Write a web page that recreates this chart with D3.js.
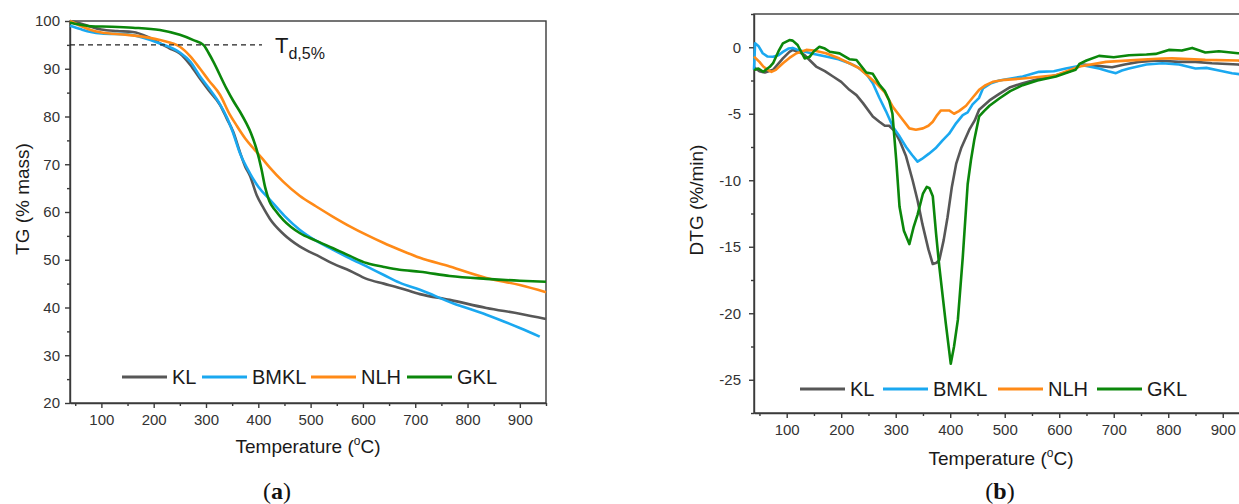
<!DOCTYPE html>
<html>
<head>
<meta charset="utf-8">
<script src="https://cdn.jsdelivr.net/npm/d3@7"></script>
<style>
  body { margin: 0; background: #fff; }
  svg text { font-family: "Liberation Sans", Arial, sans-serif; }
  .axis path, .axis line { stroke: #3a3a3a; stroke-width: 1.4; }
  .axis text { fill: #333; font-size: 15px; }
</style>
</head>
<body>
<svg id="chart" width="1239" height="504"></svg>
<script>
// series names and colours
const seriesNames = ["KL", "BMKL", "NLH", "GKL"];
const seriesColors = ["#575757", "#1aa8f0", "#ff8a17", "#0b870b"];

// TG curves (% mass) (a) : [temperature, value]
const tgKL = [[40,100],[60,99.5],[80,98.8],[100,98.2],[130,97.9],[160,97.7],[190,96.6],[212,95.3],[230,94.3],[250,93.2],[270,90.8],[288,88.0],[305,85.5],[327,82.4],[340,79.5],[352,76.8],[365,72.5],[375,69.5],[384,67.6],[397,63.5],[410,60.8],[422,58.6],[448,55.4],[479,52.8],[518,50.6],[543,49.2],[575,47.7],[607,46.0],[640,45.0],[670,44.1],[709,42.8],[766,41.6],[836,39.9],[900,38.7],[950,37.6]];
const tgBMKL = [[40,99],[60,98.3],[80,97.7],[100,97.4],[150,97.2],[212,95.3],[250,93.4],[270,91.5],[288,88.5],[305,86],[327,82.5],[340,79.8],[351,76.8],[365,72.3],[384,68.1],[400,65.3],[422,62.6],[450,59.2],[479,56.3],[510,54],[543,52.1],[575,50.3],[607,48.6],[640,46.8],[670,45.2],[709,43.7],[772,40.9],[836,38.5],[900,35.7],[938,33.9]];
const tgNLH = [[40,100],[60,99],[80,98.1],[100,97.6],[150,97.1],[212,96.0],[250,94.6],[270,92.6],[288,90.1],[305,87.6],[327,84.5],[345,80.5],[358,78.2],[375,75.4],[390,73.4],[406,71.4],[422,69.3],[448,66.3],[479,63.4],[510,61.2],[543,59],[575,57],[607,55.2],[640,53.5],[670,52.1],[709,50.4],[766,48.6],[836,46.2],[900,44.7],[950,43.2]];
const tgGKL = [[40,99.7],[55,99.3],[80,98.9],[120,98.8],[160,98.6],[212,98.1],[250,97.1],[276,96.0],[295,95.0],[305,93.3],[314,91.5],[339,85.9],[352,83.3],[365,81],[377,78.6],[386,76.5],[397,73],[406,69],[413,65.2],[421,62.3],[432,60.4],[448,58.3],[479,55.6],[510,54],[543,52.4],[575,50.8],[607,49.3],[640,48.5],[670,47.9],[709,47.5],[766,46.6],[836,46.0],[900,45.6],[950,45.4]];

// DTG curves (%/min)
const dtgKL = [[40,-1.5],[50,-1.8],[60,-1.9],[75,-1.7],[93,-0.84],[105,-0.35],[111,-0.2],[125,-0.4],[133,-0.6],[154,-1.45],[170,-1.8],[185,-2.2],[200,-2.6],[215,-3.2],[228,-3.6],[240,-4.2],[258,-5.2],[270,-5.6],[280,-5.9],[288,-5.9],[298,-6.3],[307,-7.0],[319,-8.2],[331,-10],[340,-11.5],[349,-13.3],[360,-15.2],[368,-16.3],[375,-16.2],[380,-16.0],[388,-14.5],[395,-12.8],[403,-10.5],[411,-8.75],[420,-7.6],[435,-6.2],[445,-5.5],[453,-4.7],[472,-4.0],[490,-3.5],[510,-3.0],[533,-2.7],[560,-2.4],[594,-2.1],[620,-1.8],[643,-1.3],[670,-1.4],[697,-1.5],[720,-1.3],[746,-1.1],[780,-1.0],[819,-1.1],[850,-1.1],[880,-1.2],[928,-1.3],[950,-1.35]];
const dtgBMKL = [[40,-1.7],[42,0.3],[48,0.1],[56,-0.45],[65,-0.7],[75,-0.72],[85,-0.6],[93,-0.35],[103,-0.1],[111,-0.05],[120,-0.2],[136,-0.35],[150,-0.5],[172,-0.7],[195,-0.9],[215,-1.2],[230,-1.5],[246,-2.0],[258,-2.7],[270,-3.8],[282,-4.8],[295,-6.0],[307,-6.7],[319,-7.5],[330,-8.1],[340,-8.6],[348,-8.4],[361,-8.0],[373,-7.6],[386,-7.0],[398,-6.5],[411,-5.7],[423,-5.1],[432,-4.9],[441,-4.3],[453,-3.8],[460,-3.1],[475,-2.7],[490,-2.5],[533,-2.2],[563,-1.85],[590,-1.8],[612,-1.6],[643,-1.35],[673,-1.6],[690,-1.8],[704,-1.95],[715,-1.75],[728,-1.6],[760,-1.3],[789,-1.2],[820,-1.3],[850,-1.6],[870,-1.55],[893,-1.75],[917,-1.95],[935,-2.05],[950,-2.0]];
const dtgNLH = [[40,-0.7],[50,-1.1],[57,-1.45],[65,-1.7],[72,-1.85],[80,-1.7],[93,-1.2],[105,-0.8],[118,-0.45],[136,-0.2],[150,-0.25],[172,-0.45],[197,-0.85],[215,-1.2],[234,-1.6],[246,-2.05],[264,-2.7],[280,-3.4],[295,-4.5],[310,-5.3],[325,-6.1],[337,-6.2],[350,-6.1],[360,-5.9],[368,-5.6],[376,-5.1],[383,-4.75],[398,-4.75],[407,-5.0],[416,-4.8],[429,-4.4],[441,-3.8],[453,-3.2],[465,-2.85],[478,-2.6],[500,-2.45],[533,-2.35],[594,-2.1],[637,-1.45],[686,-1.1],[746,-0.95],[789,-0.85],[807,-0.84],[868,-0.95],[928,-1.0],[950,-1.05]];
const dtgGKL = [[40,-1.72],[48,-1.6],[57,-1.84],[69,-1.47],[75,-1.2],[85,-0.3],[93,0.29],[105,0.54],[111,0.5],[120,0.17],[126,-0.3],[133,-0.84],[142,-0.72],[150,-0.3],[160,0.04],[170,-0.1],[179,-0.34],[197,-0.46],[215,-0.9],[228,-0.96],[246,-1.9],[258,-2.0],[270,-2.8],[280,-3.3],[288,-4.0],[294,-5.0],[298,-7.0],[301,-8.5],[307,-12.0],[315,-13.8],[325,-14.8],[333,-13.5],[340,-12.6],[350,-11.0],[357,-10.5],[362,-10.6],[368,-11.2],[374,-14.0],[380,-16.5],[392,-20.8],[401,-23.8],[407,-22.5],[414,-20.5],[423,-15.8],[432,-10.3],[438,-8.5],[444,-7.0],[453,-5.2],[462,-4.8],[472,-4.4],[490,-3.85],[510,-3.3],[533,-2.85],[560,-2.5],[594,-2.2],[615,-1.9],[630,-1.7],[637,-1.25],[650,-1.0],[673,-0.65],[700,-0.75],[728,-0.6],[760,-0.55],[777,-0.5],[801,-0.2],[825,-0.25],[844,-0.05],[868,-0.4],[893,-0.3],[928,-0.45],[950,-0.5]];

// tick values
const tempTicks = [100, 200, 300, 400, 500, 600, 700, 800, 900];
const tempMinor = [50, 150, 250, 350, 450, 550, 650, 750, 850, 950];
const tgTicks = [20, 30, 40, 50, 60, 70, 80, 90, 100];
const tgMinor = [25, 35, 45, 55, 65, 75, 85, 95];
const dtgTicks = [-25, -20, -15, -10, -5, 0];
const dtgMinor = [-27.5, -22.5, -17.5, -12.5, -7.5, -2.5, 2.5];
const tdLevel = 95;   // T d,5% reference

const svg = d3.select("#chart");

// plain hyphen for negative labels, like the original figure
const plainFormat = d => String(d);

// draws one panel, returns the scales
function drawPanel(opt) {
  const x = d3.scaleLinear().domain([40, 950]).range(opt.xRange);
  const y = d3.scaleLinear().domain(opt.yDomain).range(opt.yRange);
  const g = svg.append("g");

  // frame (top and right)
  g.append("rect")
    .attr("x", opt.xRange[0]).attr("y", opt.yRange[1])
    .attr("width", opt.xRange[1] - opt.xRange[0])
    .attr("height", opt.yRange[0] - opt.yRange[1])
    .attr("fill", "none").attr("stroke", "#3a3a3a").attr("stroke-width", 1.4);

  // minor ticks
  g.append("g").attr("class", "axis")
    .attr("transform", `translate(0,${opt.yRange[0]})`)
    .call(d3.axisBottom(x).tickValues(tempMinor).tickSize(3).tickFormat(""))
    .select(".domain").remove();
  g.append("g").attr("class", "axis")
    .attr("transform", `translate(${opt.xRange[0]},0)`)
    .call(d3.axisLeft(y).tickValues(opt.yMinor).tickSize(3).tickFormat(""))
    .select(".domain").remove();

  // major axes
  g.append("g").attr("class", "axis")
    .attr("transform", `translate(0,${opt.yRange[0]})`)
    .call(d3.axisBottom(x).tickValues(tempTicks).tickSize(5).tickPadding(6).tickSizeOuter(0).tickFormat(plainFormat));
  g.append("g").attr("class", "axis")
    .attr("transform", `translate(${opt.xRange[0]},0)`)
    .call(d3.axisLeft(y).tickValues(opt.yTicks).tickSize(5).tickPadding(opt.yPad).tickSizeOuter(0).tickFormat(plainFormat));

  // curves
  const line = d3.line()
    .x(d => x(d[0]))
    .y(d => y(d[1]))
    .curve(opt.curve);
  opt.series.forEach(function(s, i) {
    g.append("path")
      .datum(s)
      .attr("fill", "none")
      .attr("stroke", seriesColors[i])
      .attr("stroke-width", 2.6)
      .attr("stroke-linejoin", "round")
      .attr("d", line);
  });

  // legend
  opt.legendX.forEach(function(lx, i) {
    g.append("line")
      .attr("x1", lx).attr("x2", lx + 45)
      .attr("y1", opt.legendY).attr("y2", opt.legendY)
      .attr("stroke", seriesColors[i]).attr("stroke-width", 3);
    g.append("text")
      .attr("x", lx + 50).attr("y", opt.legendY + 7)
      .attr("font-size", 20).attr("fill", "#1a1a1a")
      .text(seriesNames[i]);
  });

  // x title with superscript o
  const xt = g.append("text")
    .attr("x", opt.xTitle[0]).attr("y", opt.xTitle[1])
    .attr("text-anchor", "middle").attr("font-size", 19).attr("fill", "#1a1a1a");
  xt.append("tspan").text("Temperature (");
  xt.append("tspan").attr("font-size", 12).attr("dy", -8).text("o");
  xt.append("tspan").attr("dy", 8).text("C)");

  // y title
  g.append("text")
    .attr("transform", `translate(${opt.yTitle[0]},${opt.yTitle[1]}) rotate(-90)`)
    .attr("text-anchor", "middle").attr("font-size", 19).attr("fill", "#1a1a1a")
    .text(opt.yLabel);

  // panel tag (a) / (b)
  const tag = g.append("text")
    .attr("x", opt.tag[0]).attr("y", opt.tag[1])
    .attr("text-anchor", "middle").attr("font-size", 24).attr("fill", "#111")
    .style("font-family", "'Liberation Serif', 'Times New Roman', serif");
  tag.append("tspan").text("(");
  tag.append("tspan").attr("font-weight", "bold").text(opt.tagLetter);
  tag.append("tspan").text(")");

  return { x: x, y: y, g: g };
}

// panel (a): TG
const a = drawPanel({
  xRange: [70, 546], yRange: [403, 21], yDomain: [20, 100],
  yTicks: tgTicks, yMinor: tgMinor, yPad: 5,
  series: [tgKL, tgBMKL, tgNLH, tgGKL], curve: d3.curveMonotoneX,
  legendX: [122, 202, 311, 407], legendY: 377,
  xTitle: [308, 453], yTitle: [29, 199], yLabel: "TG (% mass)",
  tag: [277, 499], tagLetter: "a"
});

// T d,5% dashed marker
a.g.append("line")
  .attr("x1", a.x(40)).attr("x2", a.x(407))
  .attr("y1", a.y(tdLevel)).attr("y2", a.y(tdLevel))
  .attr("stroke", "#222").attr("stroke-width", 1.1)
  .attr("stroke-dasharray", "5,4");
const td = a.g.append("text")
  .attr("x", 275).attr("y", 53)
  .attr("font-size", 22).attr("fill", "#1a1a1a");
td.append("tspan").text("T");
td.append("tspan").attr("font-size", 16).attr("dy", 6).text("d,5%");

// panel (b): DTG
drawPanel({
  xRange: [754, 1250], yRange: [413, 14], yDomain: [-27.5, 2.5],
  yTicks: dtgTicks, yMinor: dtgMinor, yPad: 8,
  series: [dtgKL, dtgBMKL, dtgNLH, dtgGKL], curve: d3.curveLinear,
  legendX: [800, 883, 998, 1097], legendY: 389,
  xTitle: [1001, 465], yTitle: [703, 200], yLabel: "DTG (%/min)",
  tag: [1000, 499], tagLetter: "b"
});
</script>
</body>
</html>
